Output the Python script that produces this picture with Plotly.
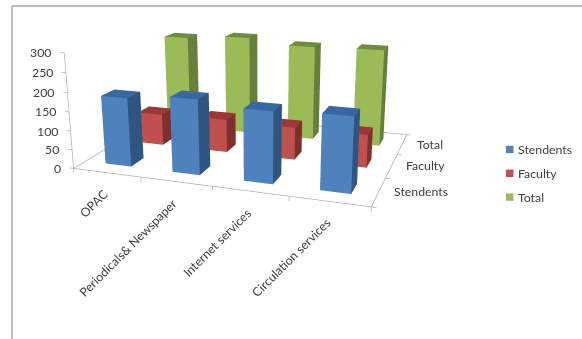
import math
import plotly.graph_objects as go

# Library survey responses by service and user group
services = ["OPAC", "Periodicals& Newspaper", "Internet services", "Circulation services"]
stendents = [182, 195, 183, 189]
faculty = [87, 91, 88, 88]
total = [270, 281, 267, 270]
series_names = ["Stendents", "Faculty", "Total"]
series_values = [stendents, faculty, total]
z_ticks = [0, 50, 100, 150, 200, 250, 300]

# front, side, top shades for each series
front_colors = ["#4F81BD", "#C0504D", "#9BBB59"]
side_colors = ["#2F5580", "#7F2F2D", "#64803A"]
top_colors = ["#38689F", "#9A3A38", "#6F8C3F"]

BAR_W, BAR_D = 0.389, 0.367
AXIS = "#B0B0B0"
TEXT = "#404040"
FONT = "Lato"
W, H = 582, 339
SCENE_W, SCENE_H = 520, 260  # scene viewport, anchored top left
FOCAL = 736  # camera focal length in pixels


def bar_mesh(values, row, name, front, side, top):
    xs, ys, zs, i, j, k, colors = [], [], [], [], [], [], []
    for c, v in enumerate(values):
        x0, x1 = c + (1 - BAR_W) / 2, c + (1 + BAR_W) / 2
        y0, y1 = row + (1 - BAR_D) / 2, row + (1 + BAR_D) / 2
        base = len(xs)
        xs += [x0, x1, x1, x0, x0, x1, x1, x0]
        ys += [y0, y0, y1, y1, y0, y0, y1, y1]
        zs += [0, 0, 0, 0, v, v, v, v]
        faces = [
            ((0, 1, 5), front), ((0, 5, 4), front),
            ((1, 2, 6), side), ((1, 6, 5), side),
            ((4, 5, 6), top), ((4, 6, 7), top),
            ((3, 2, 6), front), ((3, 6, 7), front),
            ((0, 3, 7), side), ((0, 7, 4), side),
            ((0, 1, 2), front), ((0, 2, 3), front),
        ]
        for (a, b, d), col in faces:
            i.append(base + a)
            j.append(base + b)
            k.append(base + d)
            colors.append(col)
    return go.Mesh3d(
        x=xs, y=ys, z=zs, i=i, j=j, k=k, facecolor=colors, name=name,
        flatshading=True, hoverinfo="skip", showscale=False,
        lighting=dict(ambient=1, diffuse=0, specular=0, fresnel=0, roughness=1),
    )


def axis_line(xs, ys, zs):
    return go.Scatter3d(x=xs, y=ys, z=zs, mode="lines", hoverinfo="skip", showlegend=False,
                        line=dict(color=AXIS, width=1.5))


n_cat, n_ser, z_max = len(services), len(series_names), z_ticks[-1]
fig = go.Figure()

# floor outline and value axis
fig.add_trace(axis_line([0, n_cat, n_cat, 0, 0], [0, 0, n_ser, n_ser, 0], [0, 0, 0, 0, 0]))
fig.add_trace(axis_line([0, 0], [0, 0], [0, z_max]))
for t in z_ticks:
    fig.add_trace(axis_line([0, -0.06], [0, 0], [t, t]))
for c in range(n_cat + 1):
    fig.add_trace(axis_line([c, c], [0, 0], [0, -12]))
for r in range(n_ser + 1):
    fig.add_trace(axis_line([n_cat, n_cat + 0.06], [r, r], [0, 0]))

for row, values in enumerate(series_values):
    fig.add_trace(bar_mesh(values, row, series_names[row], front_colors[row], side_colors[row], top_colors[row]))

font = dict(family=FONT, size=12.3, color=TEXT)
annots = []
for t in z_ticks:
    annots.append(dict(x=0, y=0, z=t, text=str(t), showarrow=False, xanchor="right", yanchor="middle",
                       xshift=-11, font=font))
for c, s in enumerate(services):
    annots.append(dict(x=c + 0.5, y=0, z=0, text=s, showarrow=False, textangle=-45, xanchor="right",
                       yanchor="top", xshift=7, yshift=-11, font=font))
for r, s in enumerate(series_names):
    annots.append(dict(x=n_cat, y=r + 0.5, z=0, text=s, showarrow=False, xanchor="left", yanchor="middle",
                       xshift=13, font=font))

hidden = dict(visible=False, showgrid=False, zeroline=False, showbackground=False, showspikes=False)
fig.update_layout(
    width=W, height=H, margin=dict(l=0, r=0, t=0, b=0), paper_bgcolor="white", showlegend=False,
    scene=dict(
        domain=dict(x=[0, SCENE_W / W], y=[1 - SCENE_H / H, 1]),
        xaxis=dict(range=[-0.5, n_cat + 0.5], **hidden),
        yaxis=dict(range=[-0.5, n_ser + 0.5], **hidden),
        zaxis=dict(range=[-50, z_max + 50], **hidden),
        aspectmode="manual",
        aspectratio=dict(x=3.375, y=2.632, z=1.408),
        camera=dict(
            projection=dict(type="perspective"),
            eye=dict(x=2.245, y=-6.337, z=1.779),
            center=dict(x=-0.032, y=0.351, z=-0.429),
            up=dict(x=-0.004, y=-0.006, z=1),
        ),
        annotations=annots,
    ),
)

# chart area frame: left and top edges
fig.add_shape(type="line", xref="paper", yref="paper", x0=12 / W, x1=12 / W, y0=0, y1=1 - 6 / H,
              line=dict(color="#A6A6A6", width=1.5))
fig.add_shape(type="line", xref="paper", yref="paper", x0=12 / W, x1=1, y0=1 - 6 / H, y1=1 - 6 / H,
              line=dict(color="#A6A6A6", width=1.5))

# legend keys and labels
for r, s in enumerate(series_names):
    yc = 149.5 + 23.8 * r
    fig.add_shape(type="rect", xref="paper", yref="paper", x0=506 / W, x1=513.5 / W,
                  y0=1 - (yc + 3.7) / H, y1=1 - (yc - 3.7) / H,
                  fillcolor=front_colors[r], line=dict(width=0))
    fig.add_annotation(xref="paper", yref="paper", x=517 / W, y=1 - yc / H, text=s, showarrow=False,
                       xanchor="left", yanchor="middle", font=font, borderpad=0)

# narrow the scene's field of view for a longer lens than the layout camera offers
fovy = 2 * math.atan((SCENE_H / 2) / FOCAL)
narrow_lens = f"""
var gd = document.querySelector('.plotly-graph-div');
var gl = gd._fullLayout.scene._scene.glplot;
gl.fovy = {fovy};
gl.redraw();
"""
fig.write_html("out.html", post_script=narrow_lens)
